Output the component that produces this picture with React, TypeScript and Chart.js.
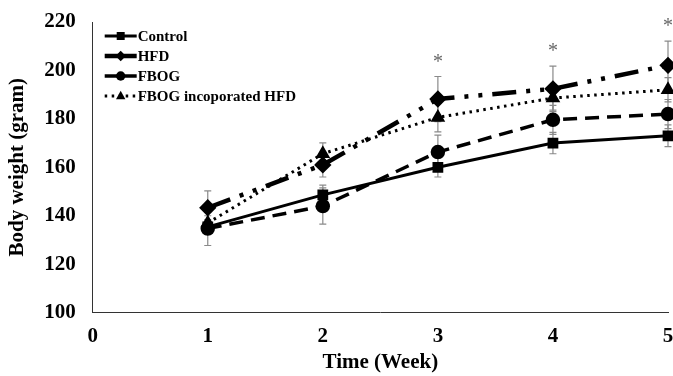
import React, { useEffect, useRef } from "react";
import { Chart, registerables } from "chart.js";

Chart.register(...registerables);

const weeks = [1, 2, 3, 4, 5];
const seriesNames = ["Control", "HFD", "FBOG", "FBOG incoporated HFD"];
const controlValues = [135.4, 148.6, 160, 170, 173];
const hfdValues = [143.3, 161, 188.2, 192.4, 202.1];
const fbogValues = [134.7, 144, 166.3, 179.6, 182];
const fbogIncValues = [137, 165.6, 180.6, 188.6, 192];
const controlErr = [3, 4, 4, 4.4, 4.5];
const hfdErr = [7, 5, 9.3, 9.4, 10];
const fbogErr = [7, 7.5, 7, 6, 6];
const fbogIncErr = [3, 4.5, 6, 5, 5];
const sigWeeks = [3, 4, 5];
const xTicks = [0, 1, 2, 3, 4, 5];
const yTicks = [100, 120, 140, 160, 180, 200, 220];

const FONT = "'Liberation Serif', 'Times New Roman', serif";

function drawMarker(ctx: CanvasRenderingContext2D, style: string, x: number, y: number, r: number) {
  ctx.beginPath();
  if (style === "rect") {
    const s = r * 0.85;
    ctx.rect(x - s, y - s, 2 * s, 2 * s);
  } else if (style === "rectRot") {
    ctx.moveTo(x, y - r * 1.1);
    ctx.lineTo(x + r * 1.1, y);
    ctx.lineTo(x, y + r * 1.1);
    ctx.lineTo(x - r * 1.1, y);
    ctx.closePath();
  } else if (style === "triangle") {
    ctx.moveTo(x, y - r * 1.1);
    ctx.lineTo(x + r, y + r * 0.7);
    ctx.lineTo(x - r, y + r * 0.7);
    ctx.closePath();
  } else {
    ctx.arc(x, y, r, 0, Math.PI * 2);
  }
  ctx.fill();
}

const errBarPlugin = {
  id: "errBars",
  beforeDatasetsDraw(chart: any) {
    const ctx = chart.ctx;
    const xs = chart.scales.x;
    const ys = chart.scales.y;
    ctx.save();
    ctx.strokeStyle = "#8a8a8a";
    ctx.lineWidth = 1.2;
    chart.data.datasets.forEach((ds: any) => {
      ds.data.forEach((p: any, i: number) => {
        const e = ds.errors[i];
        const px = xs.getPixelForValue(p.x);
        const y1 = ys.getPixelForValue(p.y + e);
        const y2 = ys.getPixelForValue(p.y - e);
        ctx.beginPath();
        ctx.moveTo(px, y1);
        ctx.lineTo(px, y2);
        ctx.moveTo(px - 3.5, y1);
        ctx.lineTo(px + 3.5, y1);
        ctx.moveTo(px - 3.5, y2);
        ctx.lineTo(px + 3.5, y2);
        ctx.stroke();
      });
    });
    ctx.restore();
  },
  afterDraw(chart: any) {
    const ctx = chart.ctx;
    const xs = chart.scales.x;
    const ys = chart.scales.y;
    ctx.save();
    ctx.fillStyle = "#666";
    ctx.font = `20px ${FONT}`;
    ctx.textAlign = "center";
    ctx.textBaseline = "top";
    sigWeeks.forEach((w) => {
      let top = -Infinity;
      chart.data.datasets.forEach((ds: any) => {
        ds.data.forEach((p: any, i: number) => {
          if (p.x === w) top = Math.max(top, p.y + ds.errors[i]);
        });
      });
      const px = xs.getPixelForValue(w);
      const py = ys.getPixelForValue(top);
      ctx.fillText("*", px, py - 24);
    });
    const left = chart.chartArea.left + 12;
    const top0 = chart.chartArea.top + 14;
    chart.data.datasets.forEach((ds: any, i: number) => {
      const y = top0 + i * 20;
      ctx.save();
      ctx.strokeStyle = "#000";
      ctx.lineWidth = ds.borderWidth;
      ctx.setLineDash(ds.legendDash || []);
      ctx.beginPath();
      ctx.moveTo(left, y);
      ctx.lineTo(left + 32, y);
      ctx.stroke();
      ctx.restore();
      ctx.save();
      ctx.fillStyle = "#000";
      drawMarker(ctx, ds.pointStyle, left + 16, y, ds.pointRadius - 0.8);
      ctx.restore();
      ctx.fillStyle = "#000";
      ctx.font = `bold 15px ${FONT}`;
      ctx.textAlign = "left";
      ctx.textBaseline = "middle";
      ctx.fillText(ds.label, left + 33, y + 1);
    });
    ctx.restore();
  },
};

function toPoints(vals: number[]) {
  return weeks.map((w, i) => ({ x: w, y: vals[i] }));
}

export default function App() {
  const ref = useRef<HTMLCanvasElement>(null);
  useEffect(() => {
    if (!ref.current) return;
    const common = {
      borderColor: "#000",
      backgroundColor: "#000",
      pointBackgroundColor: "#000",
      pointBorderColor: "#000",
      tension: 0,
      clip: false,
    };
    const gridOpts = {
      display: true,
      drawOnChartArea: false,
      drawTicks: true,
      tickLength: 10,
      tickColor: "rgba(0,0,0,0)",
    };
    const chart = new Chart(ref.current, {
      type: "line",
      data: {
        datasets: [
          {
            ...common,
            label: seriesNames[0],
            data: toPoints(controlValues),
            errors: controlErr,
            borderWidth: 3,
            borderDash: [],
            legendDash: [],
            pointStyle: "rect",
            pointRadius: 5.5,
          },
          {
            ...common,
            label: seriesNames[1],
            data: toPoints(hfdValues),
            errors: hfdErr,
            borderWidth: 4.5,
            borderDash: [24, 10, 4, 10, 4, 10],
            legendDash: [],
            pointStyle: "rectRot",
            pointRadius: 5.5,
          },
          {
            ...common,
            label: seriesNames[2],
            data: toPoints(fbogValues),
            errors: fbogErr,
            borderWidth: 3.5,
            borderDash: [14, 8],
            legendDash: [14, 6],
            pointStyle: "circle",
            pointRadius: 5.5,
          },
          {
            ...common,
            label: seriesNames[3],
            data: toPoints(fbogIncValues),
            errors: fbogIncErr,
            borderWidth: 3,
            borderDash: [2.5, 4.5],
            legendDash: [2.5, 4.5],
            pointStyle: "triangle",
            pointRadius: 5.5,
          },
        ] as any,
      },
      options: {
        animation: false,
        responsive: true,
        maintainAspectRatio: false,
        layout: { autoPadding: false, padding: { top: 22, right: 5, bottom: 1, left: 0 } },
        plugins: {
          legend: { display: false },
          tooltip: { enabled: false },
        },
        scales: {
          x: {
            type: "linear",
            min: 0,
            max: 5,
            afterBuildTicks: (s: any) => {
              s.ticks = xTicks.map((v) => ({ value: v }));
            },
            afterFit: (s: any) => {
              s.paddingRight = 0;
              s.paddingLeft = 0;
            },
            grid: { ...gridOpts, tickLength: 10 },
            border: { display: true, color: "#333", width: 1 },
            ticks: {
              color: "#000",
              font: { family: FONT, size: 21, weight: "bold" },
              padding: 1,
            },
            title: {
              display: true,
              text: "Time (Week)",
              color: "#000",
              font: { family: FONT, size: 21, weight: "bold" },
              padding: { top: 0, bottom: 0 },
            },
          },
          y: {
            type: "linear",
            min: 100,
            max: 220,
            afterBuildTicks: (s: any) => {
              s.ticks = yTicks.map((v) => ({ value: v }));
            },
            afterFit: (s: any) => {
              s.paddingTop = 0;
              s.paddingBottom = 0;
            },
            grid: { ...gridOpts, tickLength: 15 },
            border: { display: true, color: "#333", width: 1 },
            ticks: {
              color: "#000",
              font: { family: FONT, size: 21, weight: "bold" },
              padding: 2,
            },
            title: {
              display: true,
              text: "Body weight (gram)",
              color: "#000",
              font: { family: FONT, size: 21, weight: "bold" },
              padding: { top: 5, bottom: 12 },
            },
          },
        },
      } as any,
      plugins: [errBarPlugin],
    });
    return () => chart.destroy();
  }, []);
  return (
    <div style={{ position: "fixed", left: 0, top: 0, width: 673, height: 376, background: "#fff" }}>
      <canvas ref={ref} />
    </div>
  );
}
